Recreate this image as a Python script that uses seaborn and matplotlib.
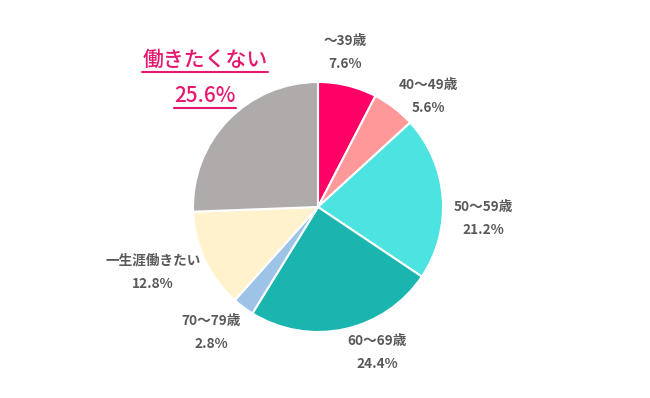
import matplotlib.pyplot as plt
import matplotlib.lines as mlines
import seaborn as sns

# data
labels = ['～39歳', '40～49歳', '50～59歳', '60～69歳', '70～79歳', '一生涯働きたい', '働きたくない']
values = [7.6, 5.6, 21.2, 24.4, 2.8, 12.8, 25.6]
colors = ['#FF0066', '#FF9999', '#4DE3E0', '#1BB5B0', '#9DC3E6', '#FFF2CC', '#AFABAB']

# label centres, in units of pie radius (layout only)
label_pos = [(0.216, 1.24), (0.88, 0.888), (1.32, -0.088), (0.472, -1.168),
             (-0.856, -1.0), (-1.32, -0.52)]

sns.set_theme(style="white")
plt.rcParams['font.family'] = ['Noto Sans CJK JP', 'DejaVu Sans']

fig = plt.figure(figsize=(6.5, 3.98), dpi=100)
ax = fig.add_axes([0, 0, 1, 1])
ax.axis('off')

ax.pie(values, colors=sns.color_palette(colors), startangle=90, counterclock=False,
       radius=1.0, wedgeprops=dict(edgecolor='white', linewidth=1.5))

# pixel-matched limits: centre at (318, 207) px, radius 125 px
ax.set_xlim(-318 / 125, (650 - 318) / 125)
ax.set_ylim(-(398 - 207) / 125, 207 / 125)

for (x, y), lab, v in zip(label_pos, labels[:-1], values[:-1]):
    ax.text(x, y + 0.092, lab, ha='center', va='center', fontsize=9.8,
            fontweight='bold', color='#595959')
    ax.text(x, y - 0.092, f'{v}%', ha='center', va='center', fontsize=9.8,
            fontweight='bold', color='#595959')

# highlighted label
pink = '#E6186E'
t1 = ax.text(-0.904, 1.176, labels[-1], ha='center', va='center', fontsize=15,
             fontweight='medium', color=pink)
t2 = ax.text(-0.904, 0.888, f'{values[-1]}%', ha='center', va='center', fontsize=15,
             fontweight='medium', color=pink)

fig.canvas.draw()
renderer = fig.canvas.get_renderer()
inv = fig.transFigure.inverted()
for t in (t1, t2):
    bb = t.get_window_extent(renderer)
    (x0, y0), (x1, _) = inv.transform([(bb.x0, bb.y0), (bb.x1, bb.y1)])
    fig.add_artist(mlines.Line2D([x0, x1], [y0 - 0.002, y0 - 0.002], color=pink,
                                 linewidth=1.5, transform=fig.transFigure))

plt.savefig('out.png', dpi=100)
